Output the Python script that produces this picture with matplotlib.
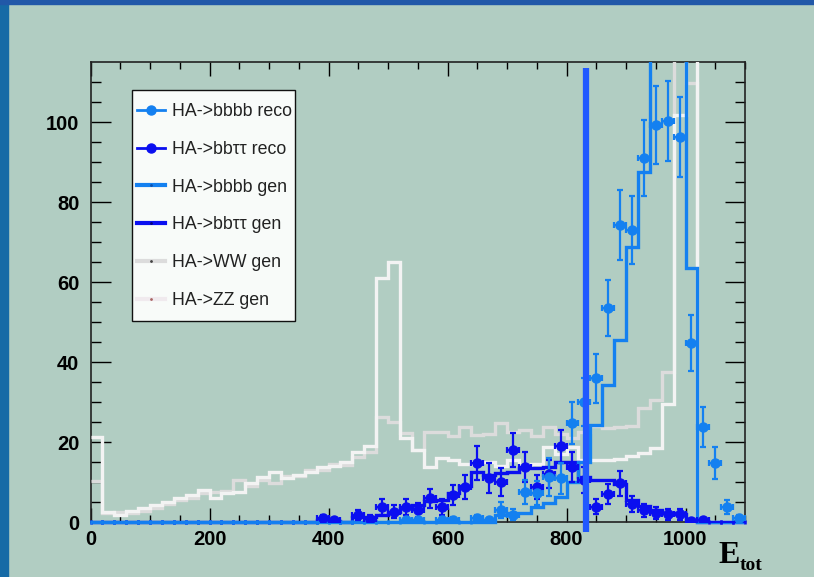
import numpy as np
import matplotlib
matplotlib.use("Agg")
import matplotlib.pyplot as plt
from matplotlib.lines import Line2D
from matplotlib.patches import Rectangle

# 55 bins of 20 GeV from 0 to 1100
edges = np.arange(0, 1101, 20)
centers = edges[:-1] + 10

zz_gen = [21.3, 2.6, 1.8, 2.8, 3.4, 4.3, 5.0, 5.9, 6.8, 8.0,
          5.9, 7.3, 7.5, 9.7, 11.2, 12.5, 11.0, 11.7, 12.5, 13.8,
          14.0, 15.0, 17.5, 19.0, 61.0, 65.0, 21.0, 18.0, 13.8, 15.9,
          15.5, 14.5, 15.0, 15.0, 14.0, 15.5, 14.0, 14.5, 18.8, 17.0,
          18.8, 15.5, 15.5, 15.5, 15.8, 16.5, 17.2, 18.4, 29.5, 101.7,
          130.0, 0, 0, 0, 0]
ww_gen = [10.3, 2.2, 2.4, 2.2, 2.8, 3.5, 4.4, 5.4, 6.0, 7.2,
          7.4, 7.8, 10.5, 9.0, 10.4, 9.8, 11.4, 11.5, 13.0, 13.0,
          14.6, 14.2, 16.2, 17.5, 26.3, 25.0, 22.2, 18.0, 22.4, 22.4,
          21.5, 23.7, 21.8, 22.0, 24.8, 22.5, 23.0, 21.5, 23.8, 22.0,
          21.0, 22.5, 24.0, 23.5, 23.8, 24.0, 28.5, 30.5, 37.6, 130.0,
          109.7, 0, 0, 0, 0]
bbbb_gen = [0]*34 + [1.75, 2.3, 2.3, 3.8, 4.7, 6.3, 10.0, 15.0, 24.3, 34.3,
                     45.5, 68.8, 87.6, 140.0, 150.0, 130.0, 63.4, 0, 0, 0, 0]
bbtt_gen = [0]*19 + [0.4, 0.2, 0, 1.3, 1.3, 1.7, 2.6, 3.4, 4.3, 5.2, 5.6,
                     7.2, 9.0, 12.4, 11.8, 12.2, 12.4, 13.4, 13.6, 13.8, 15.1,
                     15.1, 11.3, 10.5, 10.5, 9.5, 5.5, 4.0, 3.0, 2.3, 1.9,
                     0.5, 0, 0, 0, 0]

bbbb_reco = [0]*26 + [0.5, 0.4, 0, 0.6, 0.6, 0, 0.9, 0.5, 3.0, 1.8,
                      7.6, 7.2, 11.3, 10.9, 24.8, 29.9, 35.9, 53.4, 74.3, 73.0,
                      91.1, 99.3, 100.3, 96.2, 44.8, 23.7, 14.8, 3.8, 0.9]
bbbb_err = [0]*26 + [0.5, 0.4, 0, 0.6, 0.6, 0, 0.8, 0.5, 1.9, 1.4,
                     3.0, 3.0, 4.8, 3.8, 5.2, 6.0, 6.2, 7.0, 8.7, 8.6,
                     9.5, 9.8, 10.0, 10.0, 7.0, 5.0, 4.0, 1.8, 0.8]
bbtt_reco = [0]*19 + [0.9, 0.4, 0, 1.75, 0.8, 3.8, 2.6, 3.8, 3.0, 5.9, 3.8,
                      6.75, 8.8, 14.8, 11.0, 10.0, 18.0, 13.7, 8.7, 11.9, 18.9,
                      13.8, 10.5, 3.8, 7.0, 9.7, 4.5, 2.9, 2.2, 1.9, 1.9,
                      0.3, 0.4, 0, 0, 0]
bbtt_err = [0]*19 + [0.9, 0.5, 0, 1.3, 0.9, 2.0, 1.6, 2.0, 1.7, 2.4, 2.0,
                     2.6, 3.0, 4.2, 3.8, 3.5, 4.2, 3.8, 3.0, 3.5, 4.2,
                     3.7, 3.2, 1.9, 2.6, 3.1, 2.1, 1.7, 1.5, 1.4, 1.4,
                     0.5, 0.6, 0, 0, 0]

cut_x = 833
cut_y = (-2.5, 113.5)

labels = ["HA->bbbb reco", "HA->bb\u03c4\u03c4 reco", "HA->bbbb gen",
          "HA->bb\u03c4\u03c4 gen", "HA->WW gen", "HA->ZZ gen"]

bg = "#b1cdc2"
c_bbbb = "#1480f0"
c_bbtt = "#0a0ff0"
c_ww = "#dcdcdc"
c_zz = "#f3f3f3"
c_cut = "#2159ff"

W, H = 814, 577
fig = plt.figure(figsize=(8.14, 5.77), dpi=100, facecolor=bg)
ax = fig.add_axes([90.5/W, 55/H, 654.5/W, 460/H], facecolor=bg)

# clip slightly below the axis so the zero line is drawn full width
clip_rect = Rectangle((0, -0.01), 1, 1.01, transform=ax.transAxes)

for vals, col in [(ww_gen, c_ww), (zz_gen, c_zz), (bbtt_gen, c_bbtt), (bbbb_gen, c_bbbb)]:
    st = ax.stairs(vals, edges, baseline=None, color=col, lw=2.4, zorder=3)
    st.set_clip_path(clip_rect)

for vals, errs, col in [(bbtt_reco, bbtt_err, c_bbtt), (bbbb_reco, bbbb_err, c_bbbb)]:
    vals = np.array(vals)
    errs = np.array(errs)
    nz = vals > 0
    ax.errorbar(centers[~nz], vals[~nz], xerr=10, fmt="none", ecolor=col,
                elinewidth=1.4, capsize=1.6, capthick=1.8, zorder=3.5, clip_on=False)
    ax.errorbar(centers[nz], vals[nz], yerr=errs[nz], xerr=10, fmt="o", color=col,
                ms=6.5, elinewidth=1.6, capsize=2.2, capthick=1.6, zorder=4)

ax.plot([cut_x, cut_x], cut_y, color=c_cut, lw=4.5, solid_capstyle="butt",
        clip_on=False, zorder=6)

ax.set_xlim(0, 1100)
ax.set_ylim(0, 115)
ax.set_xticks(np.arange(0, 1001, 200))
ax.set_xticks(np.arange(0, 1101, 50), minor=True)
ax.set_yticks(np.arange(0, 101, 20))
ax.set_yticks(np.arange(0, 115, 5), minor=True)
ax.tick_params(axis="x", which="major", direction="in", length=10, width=1, top=True, pad=6)
ax.tick_params(axis="x", which="minor", direction="in", length=5, width=1, top=True)
ax.tick_params(axis="y", which="major", direction="in", length=14.5, width=1, right=True, pad=8)
ax.tick_params(axis="y", which="minor", direction="in", length=7.2, width=1, right=True)
for lab in ax.get_xticklabels() + ax.get_yticklabels():
    lab.set_fontfamily("Liberation Sans")
    lab.set_fontweight("bold")
    lab.set_fontsize(14.5)
for sp in ax.spines.values():
    sp.set_color("#222222")
    sp.set_linewidth(1.2)

fig.text(718/W, 1 - 563/H, "E", family="Liberation Serif", weight="bold",
         fontsize=23, ha="left", va="baseline")
fig.text(740/W, 1 - 570/H, "tot", family="Liberation Serif", weight="bold",
         fontsize=14, ha="left", va="baseline")

# legend box drawn by hand, entries by fig.legend
box = Rectangle((131.7/W, 1 - 320.7/H), (295 - 131.7)/W, (320.7 - 90)/H,
                transform=fig.transFigure, facecolor="#f8fbf9", edgecolor="#111111",
                lw=1, zorder=9)
fig.patches.append(box)

handles = [
    Line2D([], [], color=c_bbbb, marker="o", ms=6.5, lw=2),
    Line2D([], [], color=c_bbtt, marker="o", ms=6.5, lw=2),
    Line2D([], [], color=c_bbbb, lw=3, marker=".", ms=2, mfc="#0a50b0", mec="#0a50b0"),
    Line2D([], [], color=c_bbtt, lw=3, marker=".", ms=2, mfc="#000080", mec="#000080"),
    Line2D([], [], color=c_ww, lw=3, marker=".", ms=2, mfc="#444444", mec="#444444"),
    Line2D([], [], color="#f0eaee", lw=3, marker=".", ms=2, mfc="#aa6666", mec="#aa6666"),
]
leg = fig.legend(handles, labels, loc="upper left",
                 bbox_to_anchor=(136.5/W, 1 - 103/H), bbox_transform=fig.transFigure,
                 borderaxespad=0, borderpad=0, frameon=False, handlelength=1.6,
                 handletextpad=0.42, labelspacing=1.17,
                 prop={"family": "Liberation Sans", "size": 12.8})
for t in leg.get_texts():
    t.set_color("#222222")
leg.set_zorder(10)

# blue slide border
fig.patches.append(Rectangle((0, 0), 8/W, 1, transform=fig.transFigure,
                             color="#166aa6", zorder=0))
fig.patches.append(Rectangle((0, 1 - 4/H), 1, 4/H, transform=fig.transFigure,
                             color="#2158a8", zorder=0))

fig.savefig("out.png", dpi=100, facecolor=bg)
